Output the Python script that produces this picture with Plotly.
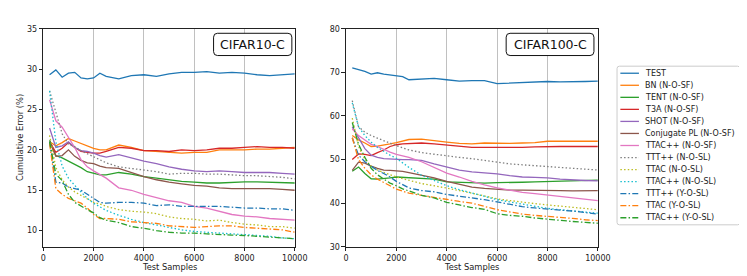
import plotly.graph_objects as go

W, H = 747, 276

samples = [250, 500, 750, 1000, 1250, 1500, 1750, 2000, 2250, 2500, 3000, 3500, 4000,
           4500, 5000, 5500, 6000, 6500, 7000, 7500, 8000, 8500, 9000, 9500, 10000]

names = ["TEST", "BN (N-O-SF)", "TENT (N-O-SF)", "T3A (N-O-SF)", "SHOT (N-O-SF)",
         "Conjugate PL (N-O-SF)", "TTAC++ (N-O-SF)", "TTT++ (N-O-SL)", "TTAC (N-O-SL)",
         "TTAC++ (N-O-SL)", "TTT++ (Y-O-SL)", "TTAC (Y-O-SL)", "TTAC++ (Y-O-SL)"]

colors = ["#1f77b4", "#ff7f0e", "#2ca02c", "#d62728", "#9467bd", "#8c564b", "#e377c2",
          "#7f7f7f", "#bcbd22", "#17becf", "#1f77b4", "#ff7f0e", "#2ca02c"]
styles = ["solid"] * 7 + ["dot"] * 3 + ["dashdot"] * 3

# CIFAR10-C cumulative error (%)
c10_test = [29.3, 29.9, 29.0, 29.5, 29.6, 28.9, 28.8, 28.9, 29.5, 29.1, 28.8, 29.2, 29.3, 29.1, 29.4, 29.6, 29.6, 29.7, 29.5, 29.6, 29.5, 29.3, 29.2, 29.3, 29.4]
c10_bn = [21.0, 20.5, 20.9, 21.4, 21.1, 20.8, 20.5, 20.2, 20.0, 20.0, 20.6, 20.3, 19.9, 19.8, 19.7, 19.6, 19.7, 19.7, 20.0, 20.0, 20.0, 20.1, 20.1, 20.2, 20.3]
c10_tent = [21.2, 19.3, 19.0, 18.6, 18.3, 17.8, 17.3, 17.1, 16.9, 16.9, 17.2, 17.0, 16.7, 16.5, 16.3, 16.1, 16.0, 15.9, 15.9, 16.0, 16.05, 16.05, 16.0, 16.0, 15.9]
c10_t3a = [21.0, 19.7, 20.2, 20.9, 20.3, 19.8, 19.7, 19.6, 19.6, 19.8, 20.3, 20.2, 19.9, 19.9, 19.8, 20.0, 19.9, 20.0, 20.2, 20.2, 20.3, 20.4, 20.3, 20.3, 20.2]
c10_shot = [22.7, 20.3, 20.5, 21.0, 20.3, 19.9, 19.8, 19.6, 19.3, 19.1, 19.4, 19.0, 18.6, 18.3, 17.9, 17.6, 17.4, 17.3, 17.4, 17.3, 17.2, 17.2, 17.2, 17.1, 17.0]
c10_cpl = [21.0, 19.2, 19.3, 20.0, 19.2, 18.7, 18.4, 18.3, 18.0, 17.8, 17.7, 17.2, 16.7, 16.3, 16.0, 15.8, 15.6, 15.5, 15.3, 15.2, 15.2, 15.2, 15.2, 15.1, 15.0]
c10_ttacpp_sf = [26.2, 23.6, 22.8, 21.5, 20.3, 18.8, 17.9, 17.4, 17.0, 16.5, 15.3, 15.0, 14.5, 14.1, 13.7, 13.5, 13.0, 12.8, 12.4, 12.0, 11.8, 11.7, 11.5, 11.4, 11.3]
c10_tttpp_n = [27.3, 24.5, 22.0, 20.7, 20.4, 19.9, 19.5, 19.1, 18.7, 18.4, 17.9, 17.7, 17.5, 17.3, 17.0, 17.1, 17.1, 17.0, 17.0, 16.9, 16.8, 16.8, 16.7, 16.6, 16.4]
c10_ttac_n = [21.8, 17.8, 16.3, 15.4, 14.8, 14.4, 14.0, 13.5, 13.3, 13.0, 12.6, 12.4, 12.3, 12.1, 11.7, 11.5, 11.4, 11.2, 11.3, 11.0, 10.8, 10.7, 10.5, 10.5, 10.3]
c10_ttacpp_n = [27.3, 21.0, 18.0, 16.5, 15.6, 14.8, 14.0, 13.4, 12.9, 12.5, 11.9, 11.4, 11.0, 10.7, 10.4, 10.1, 9.9, 9.8, 9.7, 9.6, 9.5, 9.4, 9.3, 9.1, 9.0]
c10_tttpp_y = [21.0, 16.0, 15.9, 15.4, 15.2, 15.0, 14.5, 14.0, 13.5, 13.4, 13.5, 13.5, 13.4, 13.1, 13.2, 13.0, 13.0, 13.0, 13.0, 12.9, 12.8, 12.8, 12.7, 12.7, 12.5]
c10_ttac_y = [20.8, 15.2, 14.5, 14.0, 13.7, 13.4, 12.8, 12.0, 11.5, 11.5, 11.4, 11.1, 11.0, 10.9, 10.6, 10.5, 10.4, 10.5, 10.6, 10.6, 10.4, 10.3, 10.2, 10.1, 9.8]
c10_ttacpp_y = [21.0, 17.0, 16.2, 14.5, 13.5, 13.0, 12.6, 12.2, 11.6, 11.3, 11.0, 10.5, 10.3, 10.0, 9.8, 9.7, 9.7, 9.6, 9.5, 9.45, 9.4, 9.3, 9.2, 9.1, 9.0]

# CIFAR100-C cumulative error (%)
c100_test = [71.0, 70.6, 70.2, 69.6, 69.9, 69.6, 69.4, 69.2, 69.0, 68.3, 68.4, 68.6, 68.3, 68.0, 68.1, 68.1, 67.4, 67.5, 67.6, 67.8, 67.9, 67.8, 67.8, 67.9, 68.0]
c100_bn = [55.5, 54.5, 53.8, 53.0, 53.1, 53.3, 53.6, 53.9, 54.3, 54.6, 54.7, 54.3, 54.0, 53.7, 53.6, 53.8, 53.7, 53.7, 53.8, 53.9, 54.2, 54.2, 54.1, 54.2, 54.2]
c100_tent = [47.3, 48.3, 46.8, 45.6, 45.5, 45.6, 45.8, 46.0, 45.9, 45.8, 45.6, 45.5, 44.9, 44.8, 44.6, 44.6, 44.7, 44.7, 44.8, 44.9, 45.0, 45.1, 45.2, 45.2, 45.3]
c100_t3a = [50.0, 51.3, 51.2, 50.9, 51.6, 52.2, 53.0, 53.4, 53.6, 53.7, 53.8, 53.6, 53.3, 53.0, 52.8, 52.8, 52.8, 52.7, 52.8, 52.9, 53.0, 53.0, 53.0, 53.0, 53.0]
c100_shot = [57.5, 55.0, 52.5, 51.0, 50.5, 50.2, 50.1, 50.0, 50.0, 50.0, 49.8, 49.0, 48.3, 47.6, 47.2, 47.0, 46.7, 46.3, 46.0, 45.9, 45.8, 45.5, 45.3, 45.2, 45.1]
c100_cpl = [47.5, 49.4, 49.2, 48.5, 48.0, 47.6, 47.5, 47.4, 47.3, 47.0, 46.4, 45.8, 45.0, 44.3, 43.7, 43.4, 43.2, 43.0, 43.0, 43.0, 43.0, 42.9, 42.8, 42.9, 42.9]
c100_ttacpp_sf = [57.0, 55.5, 54.5, 53.5, 53.0, 52.3, 51.7, 51.2, 50.8, 50.5, 49.5, 48.2, 46.9, 46.0, 45.0, 44.2, 43.5, 43.0, 42.5, 42.2, 41.9, 41.5, 41.2, 40.9, 40.6]
c100_tttpp_n = [63.5, 57.5, 56.3, 55.5, 54.9, 54.3, 53.7, 53.2, 52.7, 52.2, 51.6, 51.2, 50.8, 50.5, 50.2, 49.8, 49.4, 49.0, 48.8, 48.6, 48.5, 48.3, 48.0, 47.8, 47.6]
c100_ttac_n = [59.5, 53.0, 50.0, 48.5, 47.6, 47.0, 46.5, 46.0, 45.6, 45.2, 44.5, 44.0, 43.5, 42.9, 42.3, 41.6, 41.0, 40.6, 40.2, 39.9, 39.6, 39.3, 39.0, 38.8, 38.5]
c100_ttacpp_n = [63.0, 57.5, 55.5, 54.0, 52.8, 51.8, 51.0, 50.3, 49.2, 48.2, 46.4, 45.2, 44.0, 43.1, 42.3, 41.5, 40.8, 40.3, 39.8, 39.3, 38.8, 38.5, 38.2, 38.0, 37.7]
c100_tttpp_y = [55.0, 51.0, 49.5, 48.5, 47.5, 46.8, 46.0, 45.0, 44.2, 43.5, 42.9, 42.6, 42.0, 41.6, 41.3, 40.8, 40.3, 39.7, 39.2, 38.9, 38.6, 38.4, 38.2, 37.9, 37.5]
c100_ttac_y = [55.0, 50.0, 48.0, 46.5, 45.5, 44.8, 44.0, 43.2, 42.7, 42.3, 41.8, 41.3, 40.8, 40.4, 40.0, 39.2, 38.5, 38.0, 37.5, 37.2, 37.0, 36.8, 36.5, 36.2, 36.0]
c100_ttacpp_y = [58.5, 53.5, 50.5, 48.0, 46.5, 45.5, 44.6, 44.0, 43.3, 42.8, 41.8, 41.2, 40.2, 39.6, 39.0, 38.6, 37.6, 37.2, 37.0, 36.6, 36.3, 36.1, 35.8, 35.6, 35.4]

c10 = [c10_test, c10_bn, c10_tent, c10_t3a, c10_shot, c10_cpl, c10_ttacpp_sf,
       c10_tttpp_n, c10_ttac_n, c10_ttacpp_n, c10_tttpp_y, c10_ttac_y, c10_ttacpp_y]
c100 = [c100_test, c100_bn, c100_tent, c100_t3a, c100_shot, c100_cpl, c100_ttacpp_sf,
        c100_tttpp_n, c100_ttac_n, c100_ttacpp_n, c100_tttpp_y, c100_ttac_y, c100_ttacpp_y]

panel_titles = ["CIFAR10-C", "CIFAR100-C"]
x_ticks = [0, 2000, 4000, 6000, 8000, 10000]
x_ticktext = ["0", "2000", "4000", "6000", "8000", "10000"]
y1_ticks = [10, 15, 20, 25, 30, 35]
y2_ticks = [30, 40, 50, 60, 70, 80]
x_title = "Test Samples"
y_title = "Cumulative Error (%)"

DASH = {"solid": "solid", "dot": "1.5px,2.2px", "dashdot": "6px,2.2px,1.5px,2.2px"}
LW = 1.3
FONT = "DejaVu Sans"
FS = 8
LEG_FS = 8

fig = go.Figure()
for i, nm in enumerate(names):
    fig.add_trace(go.Scatter(x=samples, y=c10[i], mode="lines", name=nm, xaxis="x", yaxis="y",
                             line=dict(color=colors[i], width=LW, dash=DASH[styles[i]]),
                             showlegend=False))
for i, nm in enumerate(names):
    fig.add_trace(go.Scatter(x=samples, y=c100[i], mode="lines", name=nm, xaxis="x2", yaxis="y2",
                             line=dict(color=colors[i], width=LW, dash=DASH[styles[i]]),
                             showlegend=False))

def px(x):
    return x / W

def py(y):
    return 1 - y / H

ydom = [py(242.7), py(17.3)]
axis_common = dict(showline=True, linecolor="#222", linewidth=1, mirror=True,
                   ticks="outside", ticklen=3.5, tickcolor="#222", tickwidth=1,
                   tickfont=dict(size=FS, color="#222", family=FONT), zeroline=False)

fig.update_layout(
    width=W, height=H, margin=dict(l=0, r=0, t=0, b=0),
    paper_bgcolor="white", plot_bgcolor="white",
    font=dict(family=FONT, size=FS, color="#222"),
    xaxis=dict(domain=[px(33), px(290)], range=[0, 10000], tickvals=x_ticks, ticktext=x_ticktext,
               showgrid=True, gridcolor="#c0c0c0", gridwidth=1, anchor="y", **axis_common),
    yaxis=dict(domain=ydom, range=[8, 35], tickvals=y1_ticks, showgrid=False, anchor="x",
               **axis_common),
    xaxis2=dict(domain=[px(342.3), px(599.7)], range=[0, 10000], tickvals=x_ticks, ticktext=x_ticktext,
                showgrid=True, gridcolor="#c0c0c0", gridwidth=1, anchor="y2", **axis_common),
    yaxis2=dict(domain=ydom, range=[30, 80], tickvals=y2_ticks, showgrid=False, anchor="x2",
                **axis_common),
)

def rounded_rect(x0, y0, x1, y1, r):
    def P(x, y):
        return f"{px(x):.5f},{py(y):.5f}"
    return (f"M {P(x0 + r, y0)} L {P(x1 - r, y0)} Q {P(x1, y0)} {P(x1, y0 + r)} "
            f"L {P(x1, y1 - r)} Q {P(x1, y1)} {P(x1 - r, y1)} "
            f"L {P(x0 + r, y1)} Q {P(x0, y1)} {P(x0, y1 - r)} "
            f"L {P(x0, y0 + r)} Q {P(x0, y0)} {P(x0 + r, y0)} Z")

shapes = []
annotations = []
# axis titles
for cx in [(33 + 290) / 2, (342.3 + 599.7) / 2]:
    annotations.append(dict(x=px(cx), y=py(264), xref="paper", yref="paper", text=x_title,
                            showarrow=False, xanchor="center", yanchor="middle",
                            font=dict(size=8.3, color="#222", family=FONT)))
annotations.append(dict(x=px(8.5), y=py(130), xref="paper", yref="paper", text=y_title,
                        textangle=-90, showarrow=False, xanchor="center", yanchor="middle",
                        font=dict(size=8.3, color="#222", family=FONT)))

# panel title boxes
boxes = [(207, 22, 287, 45), (506, 22, 595.7, 45)]
for (x0, y0, x1, y1), t in zip(boxes, panel_titles):
    shapes.append(dict(type="path", xref="paper", yref="paper", path=rounded_rect(x0, y0, x1, y1, 4),
                       line=dict(color="#111", width=1), fillcolor="white"))
    annotations.append(dict(x=px((x0 + x1) / 2), y=py((y0 + y1) / 2), xref="paper", yref="paper",
                            text=t, showarrow=False, xanchor="center", yanchor="middle",
                            font=dict(size=12.5, color="#111", family=FONT)))

# custom legend
shapes.append(dict(type="path", xref="paper", yref="paper", path=rounded_rect(619.3, 56, 745, 220, 2.5),
                   line=dict(color="#cccccc", width=1), fillcolor="white"))
for i, nm in enumerate(names):
    yy = 63.3 + i * 12.45
    shapes.append(dict(type="line", xref="paper", yref="paper", x0=px(622.7), x1=px(641.7),
                       y0=py(yy), y1=py(yy),
                       line=dict(color=colors[i], width=LW, dash=DASH[styles[i]])))
    annotations.append(dict(x=px(645.5), y=py(yy), xref="paper", yref="paper", text=nm,
                            showarrow=False, xanchor="left", yanchor="middle",
                            font=dict(size=LEG_FS, color="#222", family=FONT)))

fig.update_layout(shapes=shapes, annotations=annotations)
fig.write_html("out.html")
